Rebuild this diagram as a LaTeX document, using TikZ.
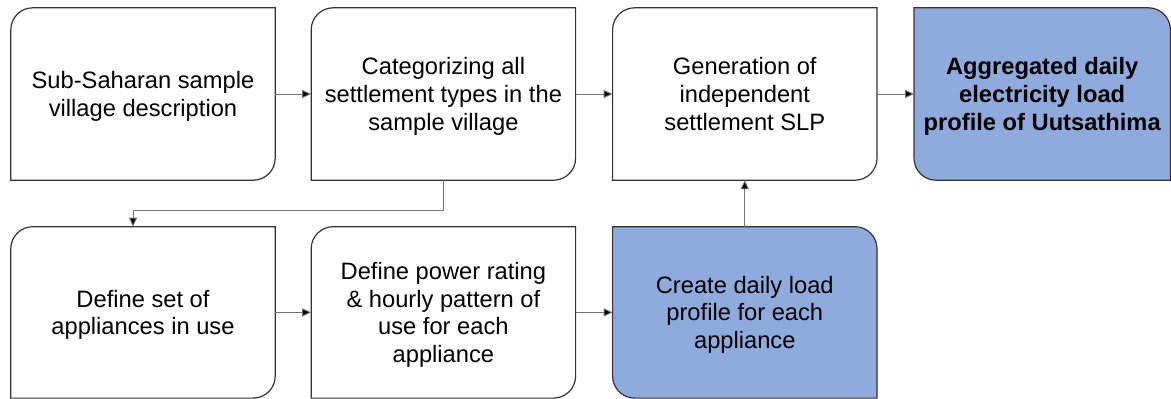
\documentclass[tikz,border=0pt]{standalone}
\usepackage{fontspec}
\setmainfont{Liberation Sans}
\usetikzlibrary{positioning,arrows.meta,backgrounds}
\definecolor{stageblue}{HTML}{8FAADC}

\tikzset{
  stage/.style={minimum width=264pt, minimum height=172pt, inner sep=0pt, align=center,
    font=\fontsize{23.7}{27.7}\selectfont, text depth=-9pt},
  outline/.style={draw=black!80, line width=1.2pt},
  flow/.style={draw=black!55, line width=0.9pt, -{Triangle[length=9pt,width=8pt,fill=black]}},
}

\begin{document}
\begin{tikzpicture}
 \useasboundingbox (0,0) rectangle (1171pt,-399pt);
 % top row
 \node[stage] (s1) at (143pt,-94pt) {Sub-Saharan sample\\village description};
 \node[stage, right=36pt of s1] (s2) {Categorizing all\\settlement types in the\\sample village};
 \node[stage, right=37pt of s2] (s3) {Generation of\\independent\\settlement SLP};
 \node[stage, minimum width=256pt, right=37pt of s3, font=\fontsize{23.7}{27.7}\selectfont\bfseries] (s4) {Aggregated daily\\electricity load\\profile of Uutsathima};
 % bottom row
 \node[stage, minimum height=171pt, below=47pt of s1, yshift=0.5pt] (b1) {Define set of\\appliances in use};
 \node[stage, minimum height=171pt, right=36pt of b1] (b2) {Define power rating\\\& hourly pattern of\\use for each\\appliance};
 \node[stage, minimum height=171pt, right=37pt of b2] (b3) {Create daily load\\profile for each\\appliance};

 \begin{scope}[on background layer]
  \foreach \n in {s1,s2,s3,b1,b2}
   \draw[outline, fill=white] (\n.south west) -- ([yshift=-22pt]\n.north west)
     arc[start angle=180, end angle=90, radius=22pt] -- (\n.north east)
     -- ([yshift=22pt]\n.south east) arc[start angle=0, end angle=-90, radius=22pt] -- cycle;
  \foreach \n in {s4,b3}
   \draw[outline, fill=stageblue] (\n.north west) -- ([xshift=-22pt]\n.north east)
     arc[start angle=90, end angle=0, radius=22pt] -- (\n.south east)
     -- ([xshift=22pt]\n.south west) arc[start angle=270, end angle=180, radius=22pt] -- cycle;
 \end{scope}

 \draw[flow] (s1) -- (s2);
 \draw[flow] (s2) -- (s3);
 \draw[flow] (s3) -- (s4);
 \draw[flow] (s2.south) -- ++(0,-30pt) -| ([xshift=-10pt]b1.north);
 \draw[flow] (b1) -- (b2);
 \draw[flow] (b2) -- (b3);
 \draw[flow] (b3) -- (s3);
\end{tikzpicture}
\end{document}
